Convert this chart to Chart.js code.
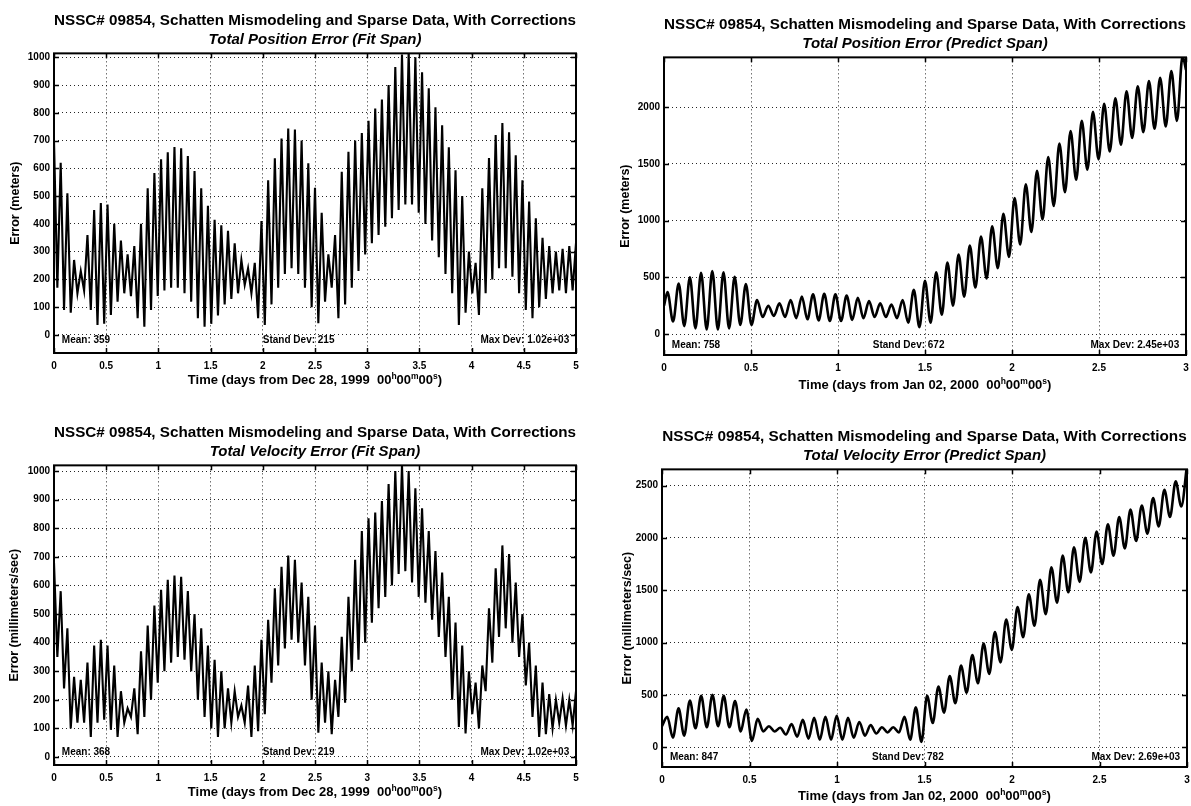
<!DOCTYPE html>
<html>
<head>
<meta charset="utf-8">
<title>NSSC# 09854 error histories</title>
<script src="https://cdn.jsdelivr.net/npm/chart.js@4.4.1/dist/chart.umd.min.js"></script>
<style>
  html, body { margin: 0; padding: 0; background: #fff; }
  #wrap { position: relative; width: 1191px; height: 806px; overflow: hidden; background: #fff; }
  canvas { position: absolute; }
</style>
</head>
<body>
<div id="wrap">
  <canvas id="posFit"  width="595" height="403" style="left:0;top:0;width:595px;height:403px"></canvas>
  <canvas id="posPred" width="596" height="403" style="left:595px;top:0;width:596px;height:403px"></canvas>
  <canvas id="velFit"  width="595" height="403" style="left:0;top:403px;width:595px;height:403px"></canvas>
  <canvas id="velPred" width="596" height="403" style="left:595px;top:403px;width:596px;height:403px"></canvas>
</div>
<script>
// ---------------------------------------------------------------------------
// Data: per-revolution maxima and minima of each error history.
// ---------------------------------------------------------------------------
const TITLE = 'NSSC# 09854, Schatten Mismodeling and Sparse Data, With Corrections';

// Sampling of the extrema (days): time of first maximum and revolution length
const fitFirstPeak = 0.0,   fitRev = 0.0641;
const posPredFirstPeak = 0.02, posPredRev = 0.06435;
const velPredFirstPeak = 0.03, velPredRev = 0.06456;

// Total position error, fit span (meters)
const posFitPeaks = [
  700, 620, 510, 270, 230, 360, 450, 475, 470, 400,
  340, 290, 320, 400, 528, 583, 633, 658, 677, 672,
  644, 590, 528, 465, 415, 395, 375, 330, 270, 240,
  260, 410, 557, 636, 707, 743, 740, 700, 618, 530,
  440, 290, 360, 588, 660, 700, 727, 771, 815, 848,
  900, 965, 1010, 1020, 1000, 946, 888, 820, 755, 676,
  593, 500, 300, 260, 528, 637, 720, 763, 730, 647,
  557, 480, 420, 350, 320, 300, 310, 320, 330
];
const posFitTroughs = [
  170, 90, 80, 150, 160, 90, 36, 40, 72, 120,
  150, 140, 60, 30, 90, 140, 160, 170, 170, 150,
  120, 60, 30, 40, 70, 110, 130, 150, 180, 150,
  60, 36, 110, 170, 220, 240, 220, 170, 100, 42,
  120, 170, 60, 110, 170, 230, 290, 330, 360, 390,
  420, 450, 470, 470, 440, 400, 340, 280, 220, 150,
  36, 80, 150, 72, 150, 200, 240, 240, 210, 150,
  90, 60, 100, 130, 150, 160, 150, 160
];

// Total position error, predict span (meters)
const posPredEnds = [250, 2330];
const posPredPeaks = [
  370, 445, 500, 540, 555, 545, 505, 440, 300, 250,
  270, 300, 330, 350, 355, 350, 340, 320, 290, 270,
  260, 300, 390, 470, 545, 630, 700, 780, 860, 950,
  1060, 1200, 1320, 1440, 1560, 1680, 1790, 1880, 1960, 2030,
  2080, 2140, 2185, 2230, 2260, 2320, 2450
];
const posPredTroughs = [
  110, 70, 50, 40, 40, 50, 80, 80, 150, 160,
  150, 140, 130, 120, 115, 115, 125, 140, 150, 150,
  140, 100, 60, 100, 170, 250, 330, 410, 490, 580,
  680, 790, 900, 1010, 1130, 1250, 1360, 1450, 1540, 1610,
  1670, 1730, 1780, 1810, 1830, 1880
];

// Total velocity error, fit span (millimeters/sec)
const velFitPeaks = [
  680, 580, 450, 280, 270, 330, 390, 410, 390, 320,
  230, 170, 240, 370, 460, 530, 585, 620, 635, 630,
  580, 500, 450, 390, 340, 300, 240, 230, 180, 250,
  320, 410, 480, 590, 665, 705, 690, 610, 560, 460,
  330, 300, 270, 420, 560, 690, 790, 835, 855, 895,
  955, 1000, 1020, 1000, 940, 870, 790, 720, 645, 560,
  470, 390, 300, 260, 320, 520, 660, 740, 710, 610,
  500, 400, 320, 260, 220, 200, 205, 200, 230
];
const velFitTroughs = [
  350, 240, 100, 120, 120, 70, 120, 130, 95, 70,
  120, 140, 80, 140, 200, 260, 300, 330, 350, 340,
  300, 200, 140, 100, 70, 100, 120, 140, 120, 70,
  90, 150, 260, 320, 380, 410, 400, 320, 200, 85,
  120, 80, 140, 190, 300, 340, 400, 470, 520, 560,
  600, 640, 650, 610, 560, 540, 480, 420, 350, 200,
  105, 82, 150, 100, 230, 330, 420, 450, 400, 350,
  250, 140, 70, 80, 100, 120, 110, 110
];

// Total velocity error, predict span (millimeters/sec)
const velPredStart = [200];
const velPredPeaks = [
  290, 370, 445, 490, 500, 490, 440, 360, 270, 200,
  185, 220, 260, 280, 290, 300, 280, 240, 210, 190,
  190, 290, 380, 490, 580, 680, 780, 880, 990, 1100,
  1220, 1340, 1460, 1600, 1720, 1830, 1910, 2000, 2060, 2130,
  2200, 2270, 2310, 2380, 2460, 2540, 2690
];
const velPredTroughs = [
  90, 110, 180, 190, 200, 190, 150, 60, 150, 150,
  120, 100, 80, 70, 70, 70, 90, 110, 130, 140,
  140, 70, 50, 230, 330, 420, 520, 610, 700, 810,
  930, 1050, 1160, 1270, 1380, 1480, 1580, 1670, 1750, 1830,
  1900, 1970, 2040, 2110, 2200, 2300
];

// Axis ticks
const fitDayTicks  = [0, 0.5, 1, 1.5, 2, 2.5, 3, 3.5, 4, 4.5, 5];
const predDayTicks = [0, 0.5, 1, 1.5, 2, 2.5, 3];
const fitErrTicks  = [0, 100, 200, 300, 400, 500, 600, 700, 800, 900, 1000];
const posPredTicks = [0, 500, 1000, 1500, 2000];
const velPredTicks = [0, 500, 1000, 1500, 2000, 2500];

// Summary statistics printed in each panel
const posFitStats  = ['Mean: 359', 'Stand Dev: 215', 'Max Dev: 1.02e+03'];
const posPredStats = ['Mean: 758', 'Stand Dev: 672', 'Max Dev: 2.45e+03'];
const velFitStats  = ['Mean: 368', 'Stand Dev: 219', 'Max Dev: 1.02e+03'];
const velPredStats = ['Mean: 847', 'Stand Dev: 782', 'Max Dev: 2.69e+03'];

// ---------------------------------------------------------------------------
const FONT = "'Liberation Sans', Arial, Helvetica, sans-serif";
Chart.defaults.font.family = FONT;
Chart.defaults.color = '#000';

// Interleave the maxima and minima of each revolution into one time series
function orbitSeries(firstPeak, rev, peaks, troughs) {
  const pts = [];
  peaks.forEach((v, k) => {
    pts.push({ x: firstPeak + k * rev, y: v });
    if (k < troughs.length) pts.push({ x: firstPeak + (k + 0.5) * rev, y: troughs[k] });
  });
  return pts;
}

// Epoch label with superscript h/m/s markers
function epochTitle(date) {
  return [
    ['Time (days from ' + date + '  00', false], ['h', true],
    ['00', false], ['m', true], ['00', false], ['s', true], [')', false]
  ];
}

// Box, inward tick marks, statistics and the time-axis label
const panelDecor = {
  id: 'panelDecor',
  afterDraw(chart, args, o) {
    const { ctx, chartArea: a, scales: { x, y } } = chart;
    const w = a.right - a.left;
    ctx.save();
    ctx.strokeStyle = '#000';
    ctx.lineWidth = 1.5;
    const tl = 5;
    ctx.beginPath();
    x.ticks.forEach(t => {
      const px = Math.round(x.getPixelForValue(t.value)) + 0.5;
      ctx.moveTo(px, a.bottom); ctx.lineTo(px, a.bottom - tl);
      ctx.moveTo(px, a.top);    ctx.lineTo(px, a.top + tl);
    });
    y.ticks.forEach(t => {
      const py = Math.round(y.getPixelForValue(t.value)) + 0.5;
      ctx.moveTo(a.left, py);  ctx.lineTo(a.left + tl, py);
      ctx.moveTo(a.right, py); ctx.lineTo(a.right - tl, py);
    });
    ctx.stroke();

    ctx.lineWidth = 2;
    ctx.strokeRect(a.left, a.top, w, a.bottom - a.top);

    // statistics
    ctx.fillStyle = '#000';
    ctx.font = 'bold 10px ' + FONT;
    ctx.textBaseline = 'middle';
    const sy = a.bottom - o.statsLift;
    ctx.textAlign = 'left';
    ctx.fillText(o.stats[0], a.left + 0.015 * w, sy);
    ctx.fillText(o.stats[1], a.left + 0.4 * w, sy);
    ctx.textAlign = 'right';
    ctx.fillText(o.stats[2], a.right - 0.013 * w, sy);

    // time-axis label with superscripts
    const big = 'bold 13px ' + FONT, small = 'bold 8.5px ' + FONT;
    let total = 0;
    o.xTitle.forEach(([s, sup]) => { ctx.font = sup ? small : big; total += ctx.measureText(s).width; });
    let cx = (a.left + a.right) / 2 - total / 2;
    const ty = a.bottom + o.xTitleDrop;
    ctx.textAlign = 'left';
    ctx.textBaseline = 'alphabetic';
    o.xTitle.forEach(([s, sup]) => {
      ctx.font = sup ? small : big;
      ctx.fillText(s, cx, sup ? ty - 5 : ty);
      cx += ctx.measureText(s).width;
    });
    ctx.restore();
  }
};

function makePanel(id, p) {
  const canvas = document.getElementById(id);
  const W = canvas.width, H = canvas.height;
  const a = p.area, xH = 30, stack = 41;
  return new Chart(canvas, {
    type: 'line',
    data: {
      datasets: [{
        data: p.points,
        borderColor: '#000',
        borderWidth: p.lineWidth,
        pointRadius: 0,
        fill: false,
        tension: p.smooth ? 0.4 : 0,
        cubicInterpolationMode: p.smooth ? 'monotone' : 'default'
      }]
    },
    options: {
      responsive: false,
      animation: false,
      devicePixelRatio: 1,
      events: [],
      layout: { padding: { left: a.l - p.yWidth, right: W - a.r, top: a.t - stack, bottom: H - a.b - xH } },
      plugins: {
        legend: { display: false },
        tooltip: { enabled: false },
        title: {
          display: true, text: TITLE, fullSize: false, color: '#000',
          font: { family: FONT, size: 15.3, weight: 'bold', lineHeight: 1.2 },
          padding: { top: 0, bottom: 0 }
        },
        subtitle: {
          display: true, text: p.subtitle, fullSize: false, color: '#000',
          font: { family: FONT, size: 15, weight: 'bold', style: 'italic', lineHeight: 1.2 },
          padding: { top: 0, bottom: 5 }
        },
        panelDecor: { stats: p.stats, statsLift: p.statsLift, xTitle: p.xTitle, xTitleDrop: p.xTitleDrop }
      },
      scales: {
        x: {
          type: 'linear', min: 0, max: p.xMax,
          afterBuildTicks: s => { s.ticks = p.xTicks.map(v => ({ value: v })); },
          afterFit: s => { s.height = xH; s.paddingLeft = 0; s.paddingRight = 0; },
          ticks: {
            autoSkip: false, maxRotation: 0, minRotation: 0, padding: 7, color: '#000',
            font: { family: FONT, size: 10, weight: 'bold' },
            callback: v => String(v)
          },
          grid: { color: 'rgba(0,0,0,0.85)', lineWidth: 1, drawTicks: false },
          border: { display: false, dash: [1, 3] }
        },
        y: {
          type: 'linear', min: p.yMin, max: p.yMax,
          afterBuildTicks: s => { s.ticks = p.yTicks.map(v => ({ value: v })); },
          afterFit: s => { s.width = p.yWidth; s.paddingTop = 0; s.paddingBottom = 0; },
          ticks: {
            autoSkip: false, padding: 4, color: '#000',
            font: { family: FONT, size: 10, weight: 'bold' },
            callback: v => String(v)
          },
          title: {
            display: true, text: p.yTitle, color: '#000', padding: 0,
            font: { family: FONT, size: 12.5, weight: 'bold' }
          },
          grid: { color: 'rgba(0,0,0,0.85)', lineWidth: 1, drawTicks: false },
          border: { display: false, dash: [1, 3] }
        }
      }
    },
    plugins: [panelDecor]
  });
}

makePanel('posFit', {
  area: { l: 54, r: 576, t: 53, b: 353 }, yWidth: 46,
  subtitle: 'Total Position Error (Fit Span)', yTitle: 'Error (meters)',
  points: orbitSeries(fitFirstPeak, fitRev, posFitPeaks, posFitTroughs),
  xMax: 5, xTicks: fitDayTicks, yMin: -65, yMax: 1014, yTicks: fitErrTicks,
  stats: posFitStats, statsLift: 13, xTitle: epochTitle('Dec 28, 1999'), xTitleDrop: 31,
  smooth: false, lineWidth: 2.1
});

makePanel('posPred', {
  area: { l: 69, r: 591, t: 57, b: 355 }, yWidth: 46,
  subtitle: 'Total Position Error (Predict Span)', yTitle: 'Error (meters)',
  points: [{ x: 0, y: posPredEnds[0] }]
    .concat(orbitSeries(posPredFirstPeak, posPredRev, posPredPeaks, posPredTroughs))
    .concat([{ x: 3, y: posPredEnds[1] }]),
  xMax: 3, xTicks: predDayTicks, yMin: -185, yMax: 2440, yTicks: posPredTicks,
  stats: posPredStats, statsLift: 10, xTitle: epochTitle('Jan 02, 2000'), xTitleDrop: 34,
  smooth: true, lineWidth: 2.6
});

makePanel('velFit', {
  area: { l: 54, r: 576, t: 62, b: 362 }, yWidth: 47,
  subtitle: 'Total Velocity Error (Fit Span)', yTitle: 'Error (millimeters/sec)',
  points: orbitSeries(fitFirstPeak, fitRev, velFitPeaks, velFitTroughs),
  xMax: 5, xTicks: fitDayTicks, yMin: -28, yMax: 1020, yTicks: fitErrTicks,
  stats: velFitStats, statsLift: 13, xTitle: epochTitle('Dec 28, 1999'), xTitleDrop: 31,
  smooth: false, lineWidth: 2.1
});

makePanel('velPred', {
  area: { l: 67, r: 592, t: 66, b: 364 }, yWidth: 42,
  subtitle: 'Total Velocity Error (Predict Span)', yTitle: 'Error (millimeters/sec)',
  points: [{ x: 0, y: velPredStart[0] }]
    .concat(orbitSeries(velPredFirstPeak, velPredRev, velPredPeaks, velPredTroughs)),
  xMax: 3, xTicks: predDayTicks, yMin: -190, yMax: 2655, yTicks: velPredTicks,
  stats: velPredStats, statsLift: 10, xTitle: epochTitle('Jan 02, 2000'), xTitleDrop: 33,
  smooth: true, lineWidth: 2.6
});
</script>
</body>
</html>
